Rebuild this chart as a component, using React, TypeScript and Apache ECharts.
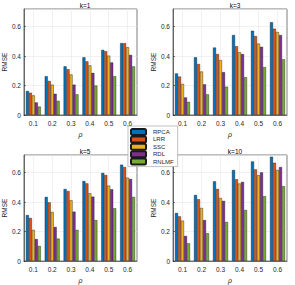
import React, { useEffect, useRef } from "react";
import * as echarts from "echarts";

const rho = ["0.1", "0.2", "0.3", "0.4", "0.5", "0.6"];
const methods = ["RPCA", "LRR", "SSC", "RDL", "RNLMF"];
const colors = ["#0072BD", "#D95319", "#EDB120", "#7E2F8E", "#77AC30"];
const titles = ["k=1", "k=3", "k=5", "k=10"];

// k = 1
const k1RPCA = [0.163, 0.263, 0.33, 0.392, 0.442, 0.488];
const k1LRR = [0.151, 0.231, 0.311, 0.364, 0.433, 0.488];
const k1SSC = [0.133, 0.206, 0.275, 0.337, 0.403, 0.46];
const k1RDL = [0.085, 0.144, 0.206, 0.286, 0.357, 0.408];
const k1RNLMF = [0.057, 0.096, 0.14, 0.2, 0.263, 0.33];
// k = 3
const k3RPCA = [0.282, 0.392, 0.458, 0.543, 0.572, 0.63];
const k3LRR = [0.261, 0.346, 0.414, 0.467, 0.536, 0.586];
const k3SSC = [0.211, 0.295, 0.373, 0.426, 0.485, 0.563];
const k3RDL = [0.119, 0.208, 0.291, 0.414, 0.463, 0.543];
const k3RNLMF = [0.089, 0.14, 0.192, 0.256, 0.325, 0.378];
// k = 5
const k5RPCA = [0.312, 0.435, 0.489, 0.543, 0.598, 0.654];
const k5LRR = [0.292, 0.398, 0.475, 0.527, 0.584, 0.638];
const k5SSC = [0.211, 0.333, 0.412, 0.46, 0.512, 0.566];
const k5RDL = [0.149, 0.231, 0.335, 0.437, 0.487, 0.557];
const k5RNLMF = [0.102, 0.152, 0.211, 0.278, 0.358, 0.435];
// k = 10
const k10RPCA = [0.326, 0.448, 0.541, 0.618, 0.676, 0.708];
const k10LRR = [0.303, 0.419, 0.489, 0.555, 0.622, 0.667];
const k10SSC = [0.274, 0.36, 0.428, 0.526, 0.582, 0.618];
const k10RDL = [0.17, 0.278, 0.408, 0.537, 0.602, 0.638];
const k10RNLMF = [0.12, 0.188, 0.265, 0.346, 0.44, 0.508];

const panels = [
  [k1RPCA, k1LRR, k1SSC, k1RDL, k1RNLMF],
  [k3RPCA, k3LRR, k3SSC, k3RDL, k3RNLMF],
  [k5RPCA, k5LRR, k5SSC, k5RDL, k5RNLMF],
  [k10RPCA, k10LRR, k10SSC, k10RDL, k10RNLMF],
];

const gridPos = [
  { left: 23, top: 9 },
  { left: 173, top: 9 },
  { left: 23, top: 155 },
  { left: 173, top: 155 },
];
const GW = 114;
const GH = 106;
const FONT = "Liberation Sans, Arial, sans-serif";
const AX = "#262626";

export default function App() {
  const ref = useRef<HTMLDivElement>(null);
  useEffect(() => {
    if (!ref.current) return;
    const chart = echarts.init(ref.current, undefined, { renderer: "svg" });
    const grid = gridPos.map((g) => ({
      left: g.left,
      top: g.top,
      width: GW,
      height: GH,
      show: true,
      borderColor: AX,
      borderWidth: 0.6,
      backgroundColor: "#fff",
    }));
    const xAxis = gridPos.map((_, i) => ({
      type: "category",
      gridIndex: i,
      data: rho,
      name: "ρ",
      nameLocation: "middle",
      nameGap: 16,
      nameTextStyle: { fontFamily: FONT, fontSize: 7, color: AX, fontStyle: "italic" },
      axisLine: { show: true, lineStyle: { color: AX, width: 0.6 } },
      axisTick: { show: true, inside: true, alignWithLabel: true, length: 2, lineStyle: { color: AX, width: 0.6 } },
      axisLabel: { fontFamily: FONT, fontSize: 6.5, color: AX, margin: 5 },
      splitLine: { show: true, alignWithLabel: true, lineStyle: { color: "#e8e8e8", width: 0.6 } },
    }));
    const yAxis = gridPos.map((_, i) => ({
      type: "value",
      gridIndex: i,
      min: 0,
      max: 0.72,
      interval: 0.2,
      name: "RMSE",
      nameLocation: "middle",
      nameGap: 13,
      nameTextStyle: { fontFamily: FONT, fontSize: 6.5, color: AX },
      axisLine: { show: true, lineStyle: { color: AX, width: 0.6 } },
      axisTick: { show: true, inside: true, length: 2, lineStyle: { color: AX, width: 0.6 } },
      axisLabel: {
        fontFamily: FONT,
        fontSize: 6.5,
        color: AX,
        margin: 3,
        showMaxLabel: false,
        formatter: (v: number) =>
          Math.abs(v * 5 - Math.round(v * 5)) < 1e-6 ? (v === 0 ? "0" : String(Math.round(v * 10) / 10)) : "",
      },
      splitLine: { show: true, lineStyle: { color: "#e8e8e8", width: 0.6 } },
    }));
    const title = gridPos.map((g, i) => ({
      text: titles[i],
      left: g.left + GW / 2,
      top: g.top - 12,
      textAlign: "center",
      textStyle: { fontFamily: FONT, fontSize: 6.5, color: "#000", fontWeight: "normal" },
    }));
    const series: any[] = [];
    panels.forEach((p, gi) => {
      p.forEach((vals, mi) => {
        series.push({
          type: "bar",
          name: methods[mi],
          xAxisIndex: gi,
          yAxisIndex: gi,
          data: vals,
          barGap: "0%",
          barCategoryGap: "21%",
          itemStyle: { color: colors[mi], borderColor: "#1a1a1a", borderWidth: 0.4 },
        });
      });
    });
    chart.setOption({
      animation: false,
      title,
      grid,
      xAxis,
      yAxis,
      series,
      legend: {
        data: methods,
        orient: "vertical",
        left: 128,
        top: 126,
        padding: [2, 4, 1, 2],
        itemGap: -0.6,
        itemWidth: 15,
        itemHeight: 6,
        backgroundColor: "#fff",
        borderColor: "#999",
        borderWidth: 0.6,
        borderRadius: 0,
        z: 10,
        textStyle: { fontFamily: FONT, fontSize: 6, color: AX, padding: [0, 0, 0, 2], lineHeight: 6 },
      },
    });
    return () => chart.dispose();
  }, []);
  return (
    <div
      ref={ref}
      style={{ position: "absolute", left: 0, top: 0, width: 295, height: 285 }}
    />
  );
}
